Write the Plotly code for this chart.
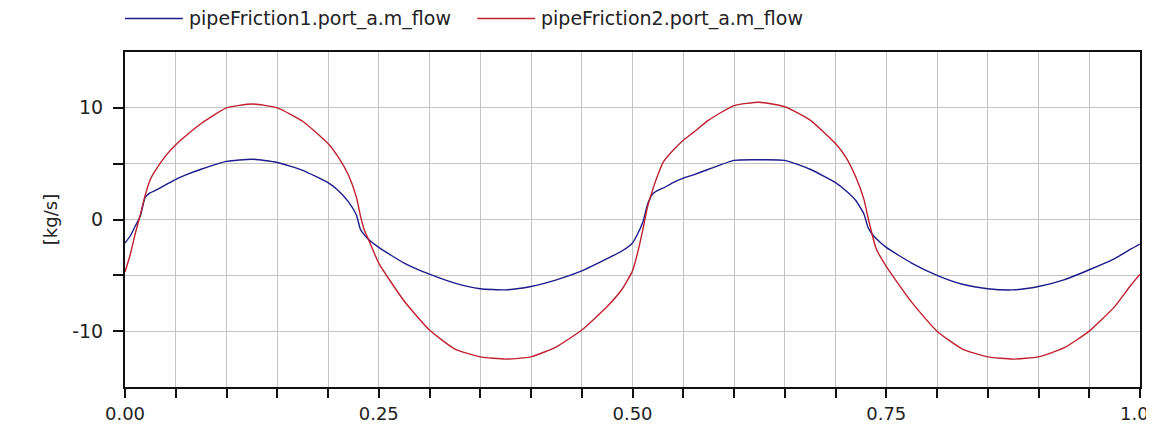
import plotly.graph_objects as go

t = [0, 0.005, 0.01, 0.015, 0.02, 0.025, 0.03, 0.04, 0.05, 0.06, 0.075, 0.1, 0.125, 0.15, 0.175,
     0.2, 0.21, 0.22, 0.228, 0.232, 0.236, 0.24, 0.25, 0.275, 0.3, 0.325, 0.35, 0.375, 0.4, 0.425,
     0.45, 0.475, 0.49, 0.5, 0.505, 0.51, 0.515, 0.52, 0.525, 0.53, 0.54, 0.55, 0.56, 0.575, 0.6,
     0.625, 0.65, 0.675, 0.7, 0.71, 0.72, 0.728, 0.732, 0.736, 0.74, 0.75, 0.775, 0.8, 0.825, 0.85,
     0.875, 0.9, 0.925, 0.95, 0.975, 0.99, 1.0]

flow1 = [-2.1, -1.5, -0.6, 0.3, 2.0, 2.4, 2.6, 3.1, 3.6, 4.0, 4.5, 5.2, 5.4, 5.1, 4.4,
         3.3, 2.6, 1.6, 0.4, -0.9, -1.4, -1.8, -2.5, -3.9, -4.9, -5.7, -6.2, -6.3, -6.0, -5.4,
         -4.6, -3.5, -2.8, -2.1, -1.3, -0.3, 1.4, 2.3, 2.6, 2.8, 3.3, 3.7, 4.0, 4.5, 5.3,
         5.35, 5.3, 4.5, 3.3, 2.6, 1.7, 0.5, -0.7, -1.3, -1.7, -2.5, -3.9, -5.0, -5.8, -6.2,
         -6.3, -6.0, -5.4, -4.5, -3.5, -2.7, -2.2]

flow2 = [-4.7, -3.2, -1.3, 0.4, 2.2, 3.6, 4.4, 5.7, 6.7, 7.5, 8.6, 10.0, 10.35, 10.0, 8.8,
         6.8, 5.6, 4.0, 2.0, 0.3, -1.0, -1.8, -3.9, -7.3, -9.9, -11.6, -12.3, -12.5, -12.3, -11.4,
         -9.9, -7.8, -6.2, -4.6, -3.0, -1.0, 1.2, 2.7, 4.0, 5.1, 6.2, 7.1, 7.8, 8.9, 10.2,
         10.5, 10.1, 8.9, 6.8, 5.6, 3.8, 1.8, 0.2, -1.3, -2.6, -4.2, -7.4, -10.0, -11.6, -12.3,
         -12.5, -12.3, -11.5, -10.0, -7.8, -6.0, -4.9]

names = ["pipeFriction1.port_a.m_flow", "pipeFriction2.port_a.m_flow"]
colors = ["#1c1c8c", "#c0202e"]

x_tickvals = [i * 0.05 for i in range(21)]
x_ticktext = [f"{v:.2f}" if i % 5 == 0 else "" for i, v in enumerate(x_tickvals)]
y_tickvals = [-10, -5, 0, 5, 10]
y_ticktext = ["-10", "", "0", "", "10"]

FONT = "DejaVu Sans, Verdana, sans-serif"
TXT = "#222"

fig = go.Figure()
for yv, nm, c in zip([flow1, flow2], names, colors):
    fig.add_trace(go.Scatter(x=t, y=yv, mode="lines", name=nm,
                             line=dict(color=c, width=1.4, shape="spline", smoothing=0.5)))

# legend drawn above the plot (line sample + label), as in the reference
leg_x = [0.0, 0.347]
for i, (nm, c) in enumerate(zip(names, colors)):
    fig.add_shape(type="line", xref="paper", yref="paper",
                  x0=leg_x[i], x1=leg_x[i] + 0.057, y0=1.1, y1=1.1,
                  line=dict(color=c, width=1.4))
    fig.add_annotation(xref="paper", yref="paper", x=leg_x[i] + 0.061, y=1.1,
                       text=nm, showarrow=False, xanchor="left", yanchor="middle",
                       font=dict(family=FONT, size=19, color=TXT))

fig.update_layout(
    width=1146, height=420,
    margin=dict(l=117, r=14, t=44, b=41),
    paper_bgcolor="white", plot_bgcolor="white",
    font=dict(family=FONT, size=18, color=TXT),
    showlegend=False,
    xaxis=dict(range=[0, 1], tickvals=x_tickvals, ticktext=x_ticktext, automargin=False,
               ticklabeloverflow="allow", ticklabelstandoff=0,
               showgrid=True, gridcolor="#c4c4c4", gridwidth=1,
               ticks="outside", ticklen=9, tickwidth=1.5, tickcolor="#111",
               showline=True, linecolor="#111", linewidth=2, mirror=True,
               zeroline=False, tickfont=dict(size=18, color=TXT)),
    yaxis=dict(range=[-15, 15], tickvals=y_tickvals, ticktext=y_ticktext, automargin=False,
               ticklabelstandoff=6,
               showgrid=True, gridcolor="#c4c4c4", gridwidth=1,
               ticks="outside", ticklen=10, tickwidth=1.5, tickcolor="#111",
               showline=True, linecolor="#111", linewidth=2, mirror=True,
               zeroline=False, tickfont=dict(size=19, color=TXT),
               title=dict(text="[kg/s]", font=dict(size=18, color=TXT), standoff=10)),
)

fig.write_html("out.html")
